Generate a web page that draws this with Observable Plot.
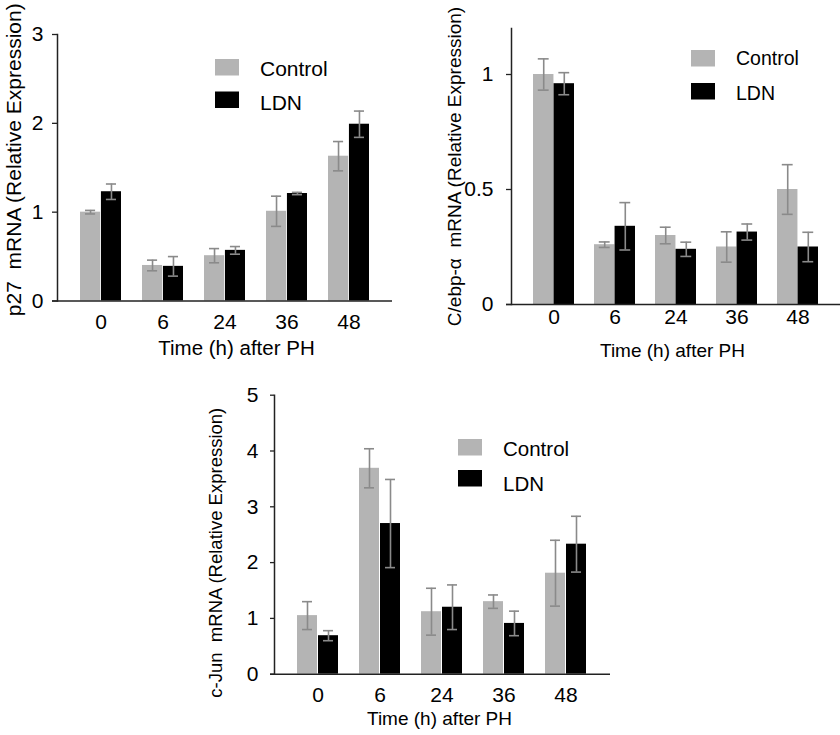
<!DOCTYPE html>
<html>
<head>
<meta charset="utf-8">
<script src="https://cdn.jsdelivr.net/npm/d3@7"></script>
<script src="https://cdn.jsdelivr.net/npm/@observablehq/plot@0.6"></script>
<style>
  body { margin: 0; background: #fff; }
  #chart { position: relative; width: 840px; height: 735px; overflow: hidden;
           font-family: "Liberation Sans", Arial, Helvetica, sans-serif; background: #fff; }
  #chart > .panel { position: absolute; }
  #chart > svg.legend { position: absolute; overflow: visible; }
</style>
</head>
<body>
<div id="chart"></div>
<script>
// ---------- data ----------
const times = ["0", "6", "24", "36", "48"];
const seriesNames = ["Control", "LDN"];
const seriesColors = ["#b4b4b4", "#000000"];
const errColor = "#8a8a8a";

const p27Control    = [1.00, 0.40, 0.51, 1.01, 1.63];
const p27ControlErr = [0.02, 0.06, 0.08, 0.17, 0.165];
const p27LDN        = [1.23, 0.39, 0.57, 1.21, 1.99];
const p27LDNErr     = [0.087, 0.11, 0.043, 0.013, 0.148];

const cebpControl    = [1.00, 0.26, 0.30, 0.25, 0.50];
const cebpControlErr = [0.068, 0.012, 0.036, 0.066, 0.108];
const cebpLDN        = [0.96, 0.34, 0.24, 0.315, 0.25];
const cebpLDNErr     = [0.048, 0.103, 0.031, 0.035, 0.064];

const cjunControl    = [1.05, 3.69, 1.12, 1.30, 1.81];
const cjunControlErr = [0.25, 0.35, 0.42, 0.12, 0.59];
const cjunLDN        = [0.69, 2.70, 1.20, 0.91, 2.33];
const cjunLDNErr     = [0.09, 0.79, 0.40, 0.22, 0.50];

const p27Ticks  = [0, 1, 2, 3];
const cebpTicks = [0, 0.5, 1];
const cjunTicks = [0, 1, 2, 3, 4, 5];

const xTitle = "Time (h) after PH";
const p27Title  = "p27  mRNA (Relative Expression)";
const cebpTitle = "C/ebp-\u03b1  mRNA (Relative Expression)";
const cjunTitle = "c-Jun  mRNA (Relative Expression)";

// ---------- layout ----------
const FONT = '"Liberation Sans", Arial, Helvetica, sans-serif';
const panels = [
  { control: p27Control, controlErr: p27ControlErr, ldn: p27LDN, ldnErr: p27LDNErr,
    yMax: 3, yTicks: p27Ticks, yTitle: p27Title,
    left: 0, top: 0, width: 420, height: 365, ml: 57, mr: 28, mt: 34, mb: 64.5,
    tickSize: 5, yPad: 9, xPad: 12.6, tickFont: 21, titleFont: 20.5, yTitleFont: 21,
    xTitleDx: 11.5, xTitleDy: 53.5, yTitleDx: -37, yTitleDy: -8,
    legend: { x: 215, tops: [59, 91.5], baselines: [76, 110], textX: 260, font: 21 } },
  { control: cebpControl, controlErr: cebpControlErr, ldn: cebpLDN, ldnErr: cebpLDNErr,
    yMax: 1.2, yTicks: cebpTicks, yTitle: cebpTitle,
    left: 420, top: 0, width: 420, height: 365, ml: 91, mr: 0, mt: 28, mb: 61,
    tickSize: 5, yPad: 13, xPad: 4.1, tickFont: 21, titleFont: 19, yTitleFont: 19,
    xTitleDx: -3.5, xTitleDy: 52, yTitleDx: -51, yTitleDy: 0,
    legend: { x: 691, tops: [50, 83], baselines: [65, 100], textX: 736, font: 19.5 } },
  { control: cjunControl, controlErr: cjunControlErr, ldn: cjunLDN, ldnErr: cjunLDNErr,
    yMax: 5, yTicks: cjunTicks, yTitle: cjunTitle,
    left: 200, top: 370, width: 440, height: 365, ml: 74, mr: 30, mt: 24.7, mb: 61.3,
    tickSize: 4, yPad: 12, xPad: 12.4, tickFont: 21, titleFont: 19, yTitleFont: 18.5,
    xTitleDx: -3, xTitleDy: 50.3, yTitleDx: -53, yTitleDy: 18,
    legend: { x: 458, tops: [439, 470], baselines: [455.5, 490.5], textX: 503, font: 20.5 } }
];

const chart = document.getElementById("chart");

function makePanel(p) {
  const rows = [];
  times.forEach((t, i) => {
    rows.push({ time: t, series: "Control", value: p.control[i], err: p.controlErr[i] });
    rows.push({ time: t, series: "LDN", value: p.ldn[i], err: p.ldnErr[i] });
  });
  const pad = 1 / 3;
  const W = p.width - p.ml - p.mr;
  const step = W / (times.length - pad + 2 * pad);
  const bw = step * (1 - pad);
  const capHalf = 5.5;

  const marks = [];
  seriesNames.forEach((s, k) => {
    const d = rows.filter(r => r.series === s);
    marks.push(Plot.barY(d, {
      x: "time", y: "value", fill: seriesColors[k],
      insetLeft: k === 0 ? 0 : bw / 2, insetRight: k === 0 ? bw / 2 : 0
    }));
  });
  seriesNames.forEach((s, k) => {
    const d = rows.filter(r => r.series === s);
    const off = k === 0 ? -bw / 4 : bw / 4;
    const cx = bw / 2 + off;
    marks.push(Plot.ruleX(d, {
      x: "time", y1: r => r.value - r.err, y2: r => r.value + r.err,
      dx: off, stroke: errColor, strokeWidth: 1.6
    }));
    for (const sign of [1, -1]) {
      marks.push(Plot.tickY(d, {
        x: "time", y: r => r.value + sign * r.err,
        insetLeft: cx - capHalf, insetRight: bw - cx - capHalf,
        stroke: errColor, strokeWidth: 1.6
      }));
    }
  });
  marks.push(Plot.ruleY([0], { stroke: "#222", strokeWidth: 1.5, insetLeft: -p.tickSize }));
  marks.push(Plot.frame({ anchor: "left", stroke: "#222", strokeWidth: 1.5 }));
  marks.push(Plot.axisY({
    ticks: p.yTicks, tickSize: p.tickSize, tickPadding: p.yPad, label: null,
    tickFormat: d => String(d), fontSize: p.tickFont, stroke: "#222", strokeWidth: 1.3
  }));
  marks.push(Plot.axisX({
    tickSize: 0, tickPadding: p.xPad, label: null, fontSize: p.tickFont
  }));
  marks.push(Plot.text([xTitle], {
    frameAnchor: "bottom", lineAnchor: "bottom", textAnchor: "middle",
    dx: p.xTitleDx, dy: p.xTitleDy, fontSize: p.titleFont, fill: "#000"
  }));
  marks.push(Plot.text([p.yTitle], {
    frameAnchor: "left", rotate: -90, lineAnchor: "bottom", textAnchor: "middle",
    dx: p.yTitleDx, dy: p.yTitleDy, fontSize: p.yTitleFont, fill: "#000"
  }));

  const svg = Plot.plot({
    width: p.width, height: p.height,
    marginLeft: p.ml, marginRight: p.mr, marginTop: p.mt, marginBottom: p.mb,
    style: { fontFamily: FONT, fontSize: p.tickFont + "px", color: "#000", background: "transparent", overflow: "visible" },
    x: { type: "band", domain: times, paddingInner: pad, paddingOuter: pad, align: 0.5 },
    y: { domain: [0, p.yMax] },
    marks
  });
  const wrap = document.createElement("div");
  wrap.className = "panel";
  wrap.style.left = p.left + "px";
  wrap.style.top = p.top + "px";
  wrap.appendChild(svg);
  chart.appendChild(wrap);

  // legend
  const L = p.legend;
  const lg = d3.select(chart).append("svg").attr("class", "legend")
    .attr("width", 1).attr("height", 1).style("left", "0px").style("top", "0px");
  seriesNames.forEach((s, k) => {
    lg.append("rect").attr("x", L.x).attr("y", L.tops[k]).attr("width", 24).attr("height", 16.5)
      .attr("fill", seriesColors[k]);
    lg.append("text").attr("x", L.textX).attr("y", L.baselines[k])
      .attr("font-family", FONT).attr("font-size", L.font).attr("fill", "#000").text(s);
  });
}

panels.forEach(makePanel);
</script>
</body>
</html>
